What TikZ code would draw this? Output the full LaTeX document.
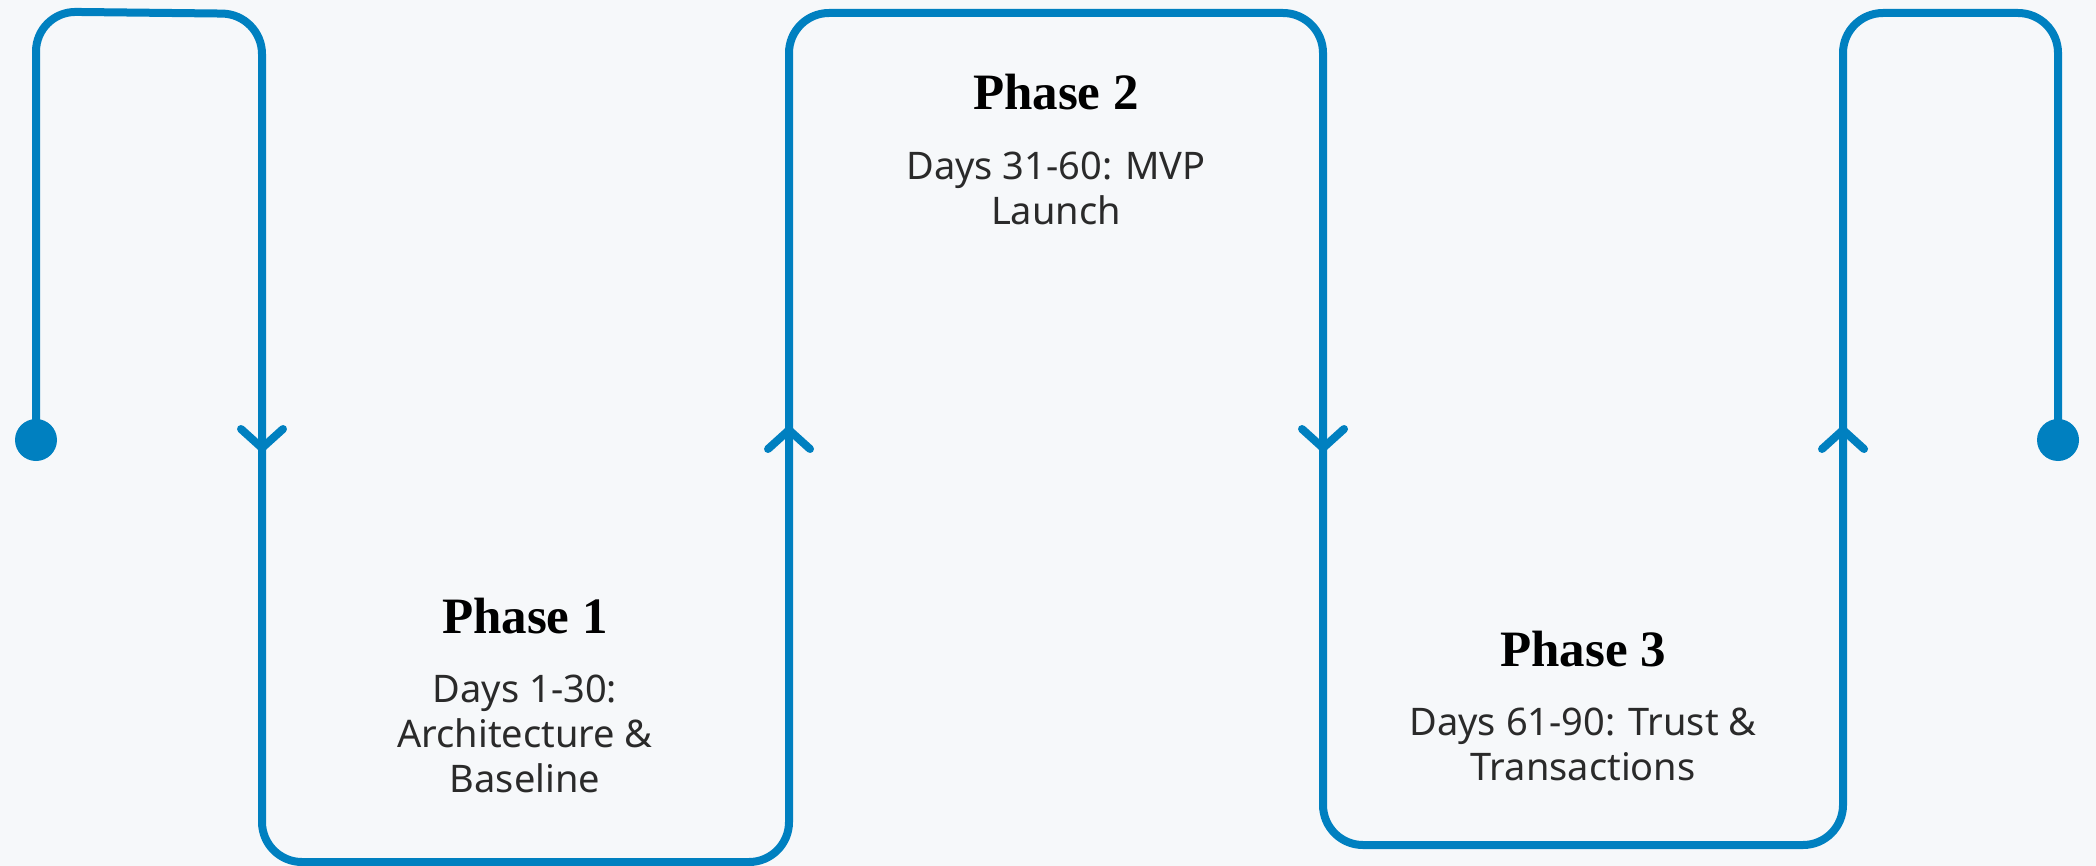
\documentclass[tikz,border=0pt]{standalone}
\usepackage{xcolor}
\definecolor{FlowBlue}{HTML}{0080C0}
\definecolor{PaleBg}{HTML}{F6F8FA}
\definecolor{InkGray}{HTML}{2A2A2A}
\usepackage{fontspec}
\setmainfont{Liberation Serif}
\newfontfamily\bodyfont{Noto Sans}
\usepackage{tikz}
\usetikzlibrary{positioning}

\begin{document}
\begin{tikzpicture}[x=0.5pt,y=-0.5pt,node distance=20.5pt,
  flow/.style={draw=FlowBlue,line width=4pt,rounded corners=20pt},
  chev/.style={draw=FlowBlue,line width=4pt,line cap=round,line join=round},
  dot/.style={circle,fill=FlowBlue,inner sep=0pt,minimum size=21pt},
  phase/.style={inner sep=0pt,anchor=base,font=\fontsize{25.5}{30}\selectfont\bfseries,text=black},
  days/.style={inner sep=0pt,align=center,font=\bodyfont\fontsize{19}{22.5}\selectfont,text=InkGray}]
\useasboundingbox[fill=PaleBg] (0,0) rectangle (2096,866);
% start and end of the route
\node[dot] (start) at (36,440) {};
\node[dot] (stop) at (2058,440) {};
\coordinate (down1) at (262,448);
\coordinate (up1) at (789,430);
\coordinate (down2) at (1323,448);
\coordinate (up2) at (1843,430);
\draw[flow] (start.center) -- (36,11.5) -- (262,14) -- (down1) -- (262,862) -- (789,862) -- (up1) -- (789,13) -- (1323,13) -- (down2) -- (1323,845) -- (1843,845) -- (up2) -- (1843,13) -- (2058,13) -- (stop.center);
% direction marks
\draw[chev] ([shift={(-21,-19)}]down1) -- (down1) -- ([shift={(21,-19)}]down1);
\draw[chev] ([shift={(-21,-19)}]down2) -- (down2) -- ([shift={(21,-19)}]down2);
\draw[chev] ([shift={(-21,19)}]up1) -- (up1) -- ([shift={(21,19)}]up1);
\draw[chev] ([shift={(-21,19)}]up2) -- (up2) -- ([shift={(21,19)}]up2);
% phase labels
\node[phase] (p1) at (525,633) {Phase 1};
\node[days,below=of p1] (d1) {Days 1-30:\\Architecture \&\\Baseline};
\node[phase] (p2) at (1056,110) {Phase 2};
\node[days,below=of p2] (d2) {Days 31-60: MVP\\Launch};
\node[phase] (p3) at (1583,666) {Phase 3};
\node[days,below=of p3] (d3) {Days 61-90: Trust \&\\Transactions};
\end{tikzpicture}
\end{document}
